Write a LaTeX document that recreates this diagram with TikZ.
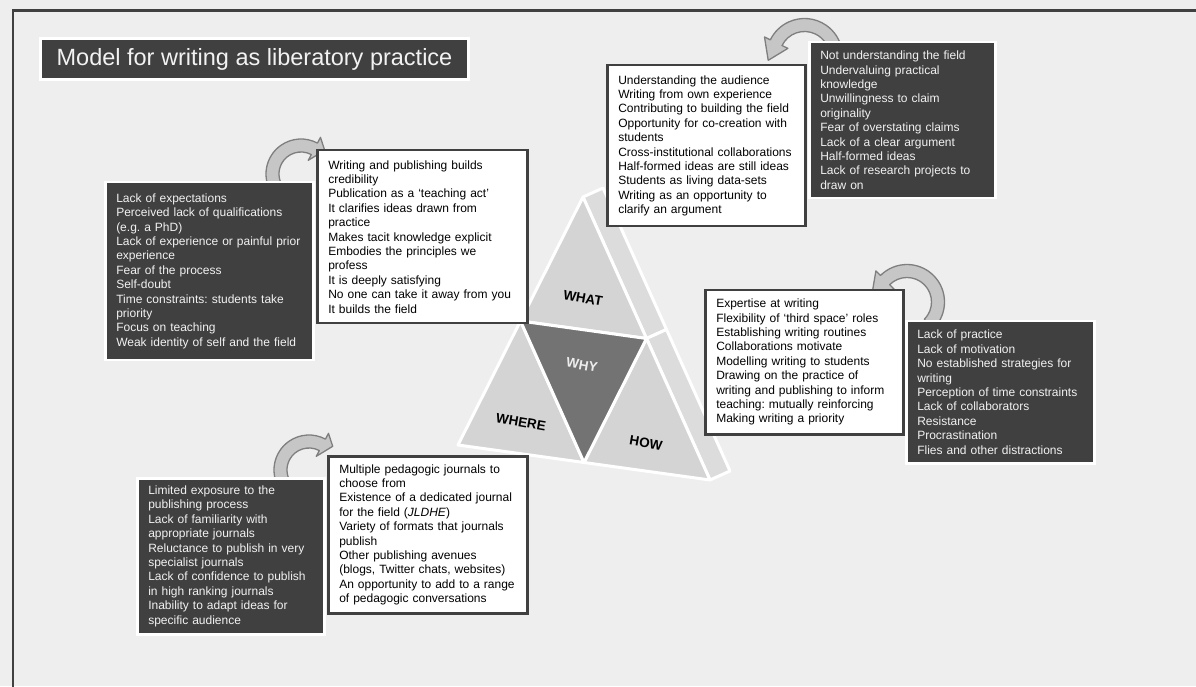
\documentclass[tikz,border=0pt]{standalone}
\usepackage{fontspec}
\setmainfont{Liberation Sans}
\usepackage{xcolor}
\usetikzlibrary{shadows,positioning,calc}
\frenchspacing

\definecolor{pagegray}{HTML}{EEEEEE}
\definecolor{boxdark}{HTML}{404040}
\definecolor{facegray}{HTML}{D4D4D4}
\definecolor{sidegray}{HTML}{DCDCDC}
\definecolor{whygray}{HTML}{737373}
\definecolor{turnfill}{HTML}{C6C6C6}
\definecolor{turnline}{HTML}{7F7F7F}

\tikzset{
    boxtext/.style={font=\fontsize{12}{14.4}\selectfont, align=left, anchor=north west, inner xsep=11pt},
    barrier/.style={boxtext, rectangle, fill=boxdark, draw=white, line width=2.5pt, text=white!95!black},
    enabler/.style={boxtext, rectangle, fill=white, draw=boxdark, line width=2.5pt, text=black,
        drop shadow={shadow xshift=1.2pt, shadow yshift=-1.2pt, opacity=1, fill=boxdark}},
    face/.style={fill=facegray, draw=white, line width=3pt, line join=round},
    side/.style={fill=sidegray, draw=white, line width=3pt, line join=round},
    corner/.style={font=\fontsize{13.5}{16}\selectfont\bfseries, rotate=-10, inner sep=1pt},
    turn/.style={fill=turnfill, draw=turnline, line width=1.3pt, line join=round},
    frameline/.style={draw=boxdark, line width=2.5pt}
}

\newcommand{\turnarrow}[5]{%
    \draw[turn] ($(#1)+(#3:{#2+6.5})$) arc[start angle=#3, end angle=#4, radius={#2+6.5}]
        -- ($(#1)+(#4:{#2+13})$) -- ($(#1)+(#5:{#2+5})$) -- ($(#1)+(#4:{#2-13})$)
        -- ($(#1)+(#4:{#2-6.5})$) arc[start angle=#4, end angle=#3, radius={#2-6.5}] -- cycle;}

\begin{document}
\begin{tikzpicture}[x=1pt, y=1pt]
    \clip (0,0) rectangle (1196,686);
    \fill[pagegray] (0,0) rectangle (1196,686);
    \draw[frameline] (1210,675.3) -| (12.8,-10);

    % pyramid
    \coordinate (apex) at (583,489);
    \coordinate (left) at (458,241);
    \coordinate (right) at (710,206);
    \coordinate (leftMid) at ($(apex)!0.5!(left)$);
    \coordinate (rightMid) at ($(apex)!0.5!(right)$);
    \coordinate (bottomMid) at ($(left)!0.5!(right)$);
    \draw[side] (apex) -- ($(apex)+(20,9)$) -- ($(rightMid)+(20,9)$) -- (rightMid) -- cycle;
    \draw[side] (rightMid) -- ($(rightMid)+(20,9)$) -- ($(right)+(20,9)$) -- (right) -- cycle;
    \draw[face] (apex) -- (leftMid) -- (rightMid) -- cycle;
    \draw[face] (leftMid) -- (left) -- (bottomMid) -- cycle;
    \draw[face] (rightMid) -- (bottomMid) -- (right) -- cycle;
    \draw[face, fill=whygray] (leftMid) -- (rightMid) -- (bottomMid) -- cycle;
    \node[corner] (what) at (583,388) {WHAT};
    \node[corner, text=white!93!black] (why) at (582,321) {WHY};
    \node[corner] (where) at (521,264) {WHERE};
    \node[corner] (how) at (646,243) {HOW};

    % turning arrows
    \coordinate (whyTurn) at (301,512);
    \coordinate (whatTurn) at (804.5,629.5);
    \coordinate (howTurn) at (907,384);
    \coordinate (whereTurn) at (309,216);
    \turnarrow{whyTurn}{28.5}{215}{62}{45}
    \turnarrow{whatTurn}{31.5}{-35}{154}{186}
    \turnarrow{howTurn}{31}{-45}{135}{165}
    \turnarrow{whereTurn}{28.5}{215}{62}{45}

    \node[barrier, text width=186pt, minimum height=178pt] (whyBarrier) at (104,505) {
        Lack of expectations\\
        Perceived lack of qualifications\\
        (e.g. a PhD)\\
        Lack of experience or painful prior\\
        experience\\
        Fear of the process\\
        Self-doubt\\
        Time constraints: students take\\
        priority\\
        Focus on teaching\\
        Weak identity of self and the field};
    \node[enabler, text width=188pt, minimum height=173pt] (whyBox) at (316,537) {
        Writing and publishing builds\\
        credibility\\
        Publication as a ‘teaching act’\\
        It clarifies ideas drawn from\\
        practice\\
        Makes tacit knowledge explicit\\
        Embodies the principles we\\
        profess\\
        It is deeply satisfying\\
        No one can take it away from you\\
        It builds the field};
    \node[enabler, text width=176pt, minimum height=161pt] (whatBox) at (606,622) {
        Understanding the audience\\
        Writing from own experience\\
        Contributing to building the field\\
        Opportunity for co-creation with\\
        students\\
        Cross-institutional collaborations\\
        Half-formed ideas are still ideas\\
        Students as living data-sets\\
        Writing as an opportunity to\\
        clarify an argument};
    \node[barrier, text width=164pt, minimum height=156pt] (whatBarrier) at (808,645) {
        Not understanding the field\\
        Undervaluing practical\\
        knowledge\\
        Unwillingness to claim\\
        originality\\
        Fear of overstating claims\\
        Lack of a clear argument\\
        Half-formed ideas\\
        Lack of research projects to\\
        draw on};
    \node[enabler, text width=176pt, minimum height=144pt] (howBox) at (704,397) {
        Expertise at writing\\
        Flexibility of ‘third space’ roles\\
        Establishing writing routines\\
        Collaborations motivate\\
        Modelling writing to students\\
        Drawing on the practice of\\
        writing and publishing to inform\\
        teaching: mutually reinforcing\\
        Making writing a priority};
    \node[barrier, text width=166pt, minimum height=142pt] (howBarrier) at (905,366) {
        Lack of practice\\
        Lack of motivation\\
        No established strategies for\\
        writing\\
        Perception of time constraints\\
        Lack of collaborators\\
        Resistance\\
        Procrastination\\
        Flies and other distractions};
    \node[barrier, text width=165pt, minimum height=156pt] (whereBarrier) at (136,209) {
        Limited exposure to the\\
        publishing process\\
        Lack of familiarity with\\
        appropriate journals\\
        Reluctance to publish in very\\
        specialist journals\\
        Lack of confidence to publish\\
        in high ranking journals\\
        Inability to adapt ideas for\\
        specific audience};
    \node[enabler, text width=177pt, minimum height=157pt] (whereBox) at (327,231) {
        Multiple pedagogic journals to\\
        choose from\\
        Existence of a dedicated journal\\
        for the field (\textit{JLDHE})\\
        Variety of formats that journals\\
        publish\\
        Other publishing avenues\\
        (blogs, Twitter chats, websites)\\
        An opportunity to add to a range\\
        of pedagogic conversations};

    \node[rectangle, fill=boxdark, draw=white, line width=2.5pt, text=white!95!black,
        minimum width=428pt, minimum height=41pt, font=\fontsize{23.5}{28}\selectfont] (title) at (254.5,627)
        {Model for writing as liberatory practice};
\end{tikzpicture}
\end{document}
